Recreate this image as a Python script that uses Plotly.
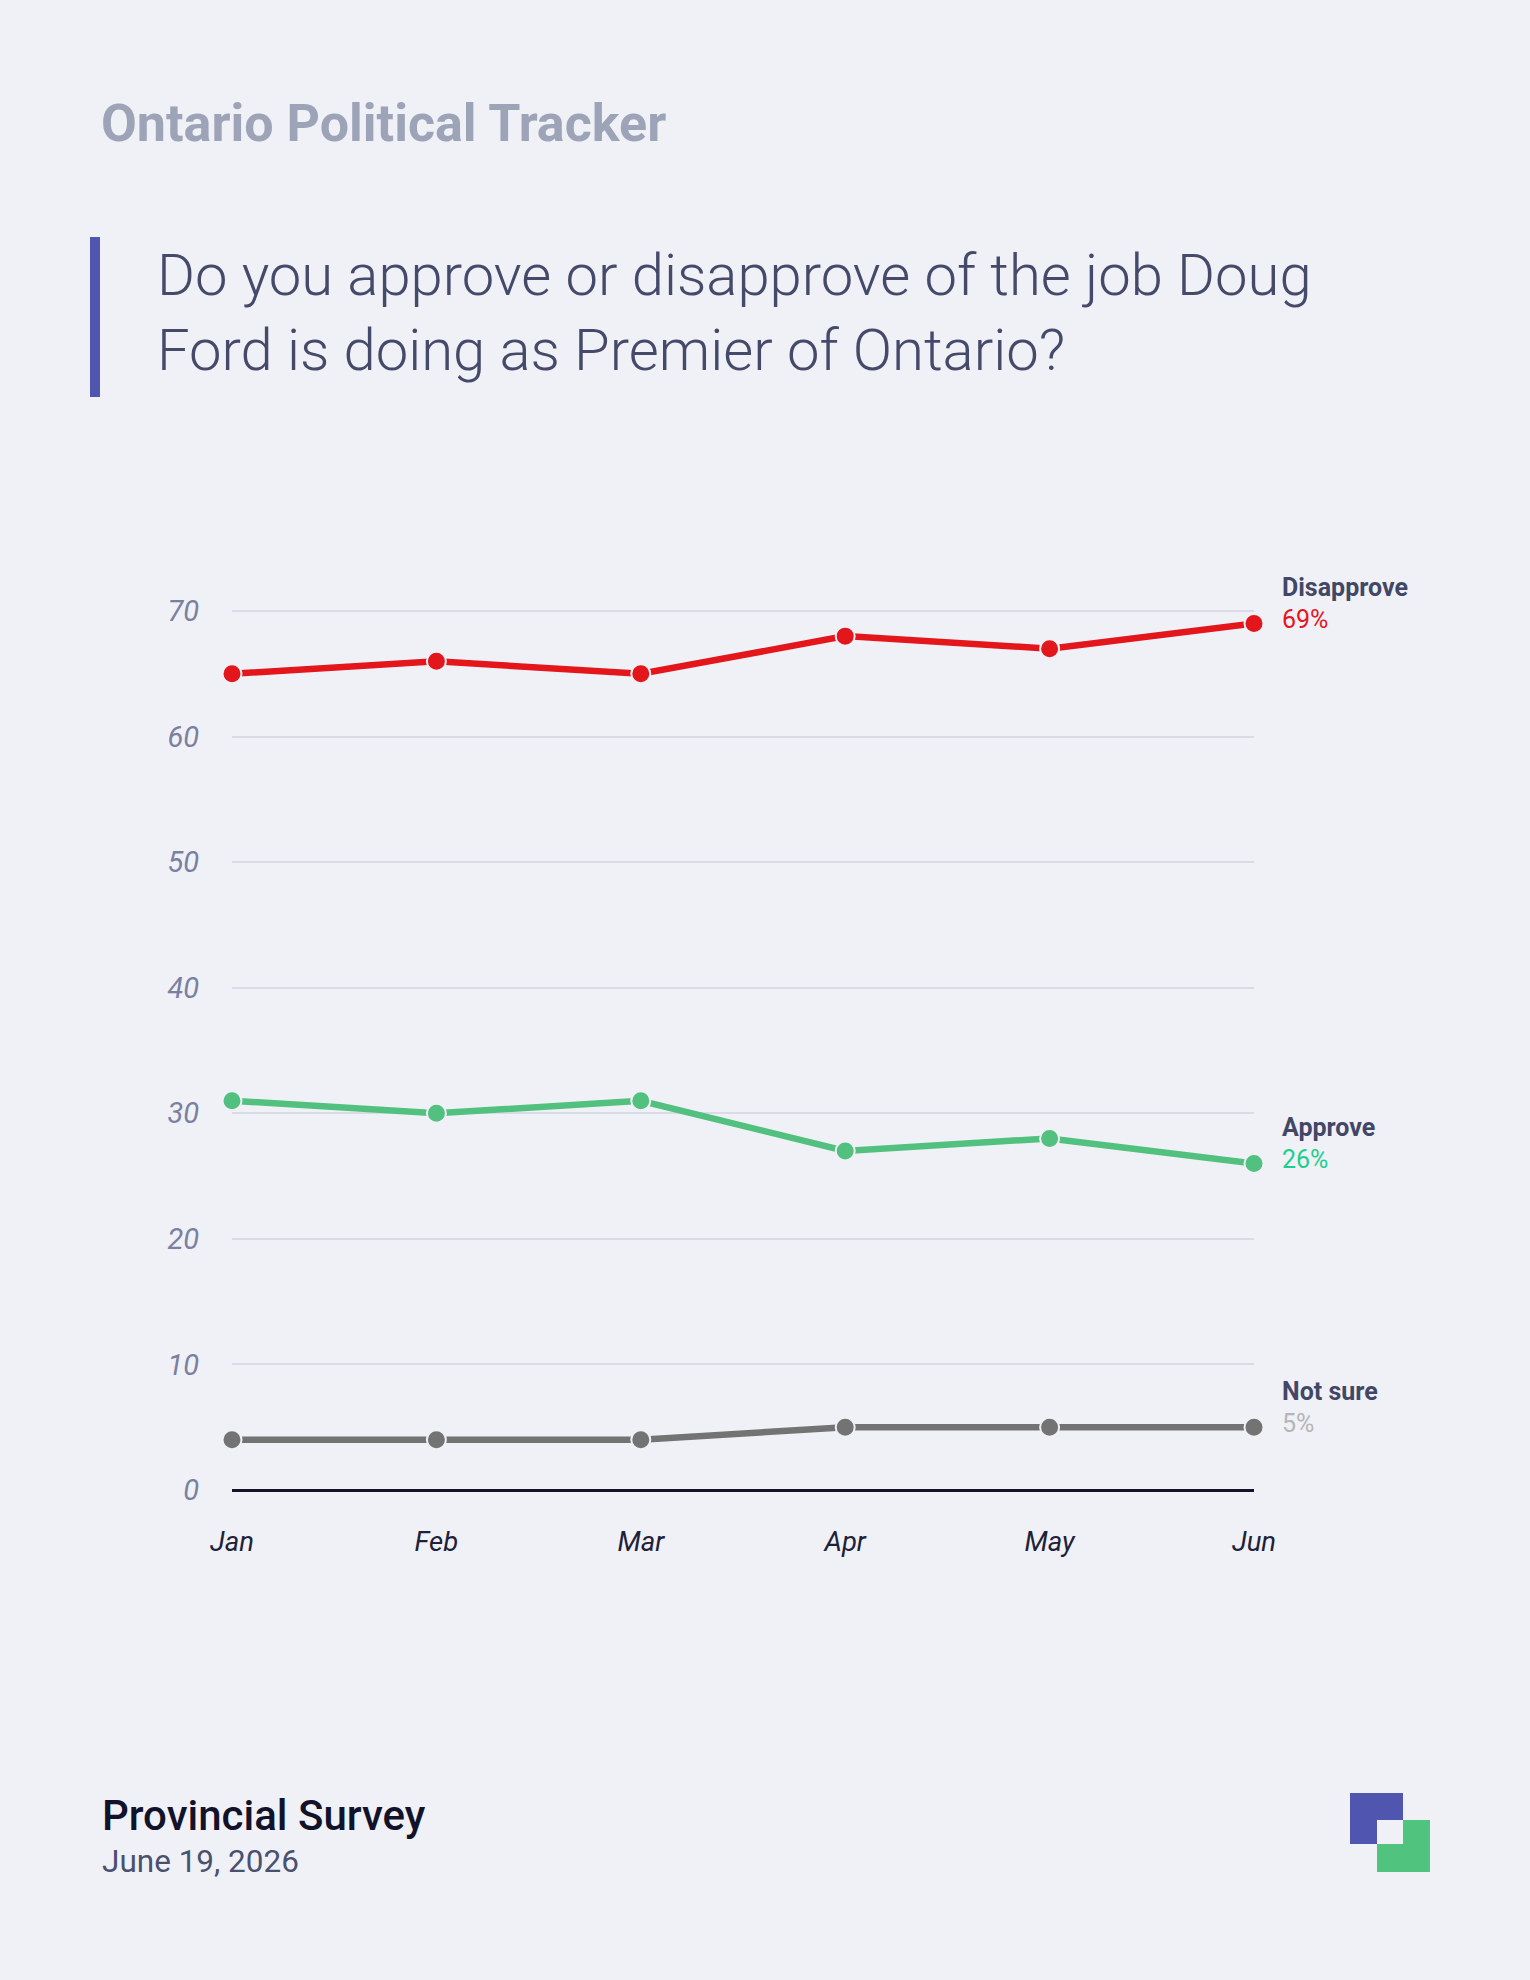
import plotly.graph_objects as go

# ---- data ----
months = ["Jan", "Feb", "Mar", "Apr", "May", "Jun"]
disapprove = [65, 66, 65, 68, 67, 69]
approve = [31, 30, 31, 27, 28, 26]
not_sure = [4, 4, 4, 5, 5, 5]
series_names = ["Disapprove", "Approve", "Not sure"]
y_ticks = [0, 10, 20, 30, 40, 50, 60, 70]

W, H = 1530, 1980
BG = "#F0F1F7"


def px(x):
    return x / W


def py(y):
    return 1 - y / H


line_colors = ["#E3161C", "#52C07E", "#737373"]
value_colors = ["#E8141C", "#1FCE8D", "#B5B5B5"]
values = [disapprove, approve, not_sure]

fig = go.Figure()
for name, vals, col in zip(series_names, values, line_colors):
    fig.add_trace(go.Scatter(
        x=months, y=vals, mode="lines+markers", name=name,
        line=dict(color=col, width=6.5),
        marker=dict(size=19, color=col, line=dict(color=BG, width=2)),
        cliponaxis=False, showlegend=False, hoverinfo="skip",
    ))

annotations = []
for name, vals, vcol in zip(series_names, values, value_colors):
    annotations.append(dict(
        x=months[-1], y=vals[-1], xref="x", yref="y", text=name,
        xanchor="left", yanchor="middle", xshift=26, yshift=36, showarrow=False,
        font=dict(family="Roboto", size=25, color="#434766", weight="bold"),
    ))
    annotations.append(dict(
        x=months[-1], y=vals[-1], xref="x", yref="y", text=f"{vals[-1]}%",
        xanchor="left", yanchor="middle", xshift=26, yshift=4, showarrow=False,
        font=dict(family="Roboto", size=25, color=vcol),
    ))

# header / footer texts
annotations += [
    dict(x=px(99), y=py(124), xref="paper", yref="paper", text="Ontario Political Tracker",
         xanchor="left", yanchor="middle", showarrow=False,
         font=dict(family="Roboto", size=52, color="#9EA4B8", weight="bold")),
    dict(x=px(155), y=py(313), xref="paper", yref="paper",
         text="Do you approve or disapprove of the job Doug<br>Ford is doing as Premier of Ontario?",
         xanchor="left", yanchor="middle", align="left", showarrow=False,
         font=dict(family="Roboto", size=58, color="#464A6A", weight=300)),
    dict(x=px(100), y=py(1815), xref="paper", yref="paper", text="Provincial Survey",
         xanchor="left", yanchor="middle", showarrow=False,
         font=dict(family="Roboto", size=42, color="#12132A", weight=500)),
    dict(x=px(100), y=py(1861), xref="paper", yref="paper", text="June 19, 2026",
         xanchor="left", yanchor="middle", showarrow=False,
         font=dict(family="Roboto", size=31.5, color="#4A5170")),
]

shapes = [
    # accent bar
    dict(type="rect", xref="paper", yref="paper", x0=px(90), x1=px(100), y0=py(397), y1=py(237),
         fillcolor="#5056B0", line=dict(width=0), layer="above"),
    # logo
    dict(type="rect", xref="paper", yref="paper", x0=px(1350), x1=px(1403), y0=py(1844), y1=py(1793),
         fillcolor="#5055AF", line=dict(width=0), layer="above"),
    dict(type="rect", xref="paper", yref="paper", x0=px(1377), x1=px(1430), y0=py(1872), y1=py(1820),
         fillcolor="#50C47E", line=dict(width=0), layer="above"),
    dict(type="rect", xref="paper", yref="paper", x0=px(1377), x1=px(1403), y0=py(1844), y1=py(1820),
         fillcolor=BG, line=dict(width=0), layer="above"),
]

y_top_px = 585.9
fig.update_layout(
    width=W, height=H,
    margin=dict(l=0, r=0, t=0, b=0, autoexpand=False),
    paper_bgcolor=BG, plot_bgcolor=BG,
    annotations=annotations, shapes=shapes,
    xaxis=dict(
        domain=[px(232), px(1254)], range=[0, 5], type="category",
        showgrid=False, zeroline=False, showline=False, ticks="",
        automargin=False,
        tickfont=dict(family="Roboto", size=27.5, color="#1E2138", style="italic"),
        ticklabelstandoff=32,
    ),
    yaxis=dict(
        domain=[py(1490), py(y_top_px)], range=[0, 72],
        tickvals=y_ticks, ticks="", automargin=False,
        showgrid=True, gridcolor="#D9DBE5", gridwidth=2,
        zeroline=True, zerolinecolor="#13132A", zerolinewidth=3,
        showline=False,
        tickfont=dict(family="Roboto", size=29, color="#7A80A0", style="italic"),
        ticklabelstandoff=32,
    ),
)

fig.write_html("out.html")
